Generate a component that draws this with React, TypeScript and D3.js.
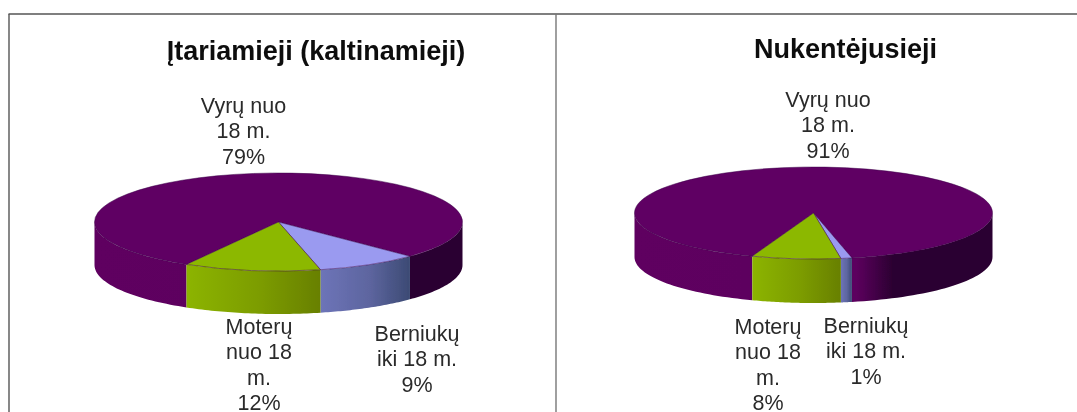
import React from "react";
import * as d3 from "d3";

const seriesNames = ["Vyrų nuo 18 m.", "Berniukų iki 18 m.", "Moterų nuo 18 m."];
const leftTitle = "Įtariamieji (kaltinamieji)";
const rightTitle = "Nukentėjusieji";
const leftValues = [79, 9, 12];
const rightValues = [91, 1, 8];
const leftLabels = [["Vyrų nuo", "18 m.", "79%"], ["Berniukų", "iki 18 m.", "9%"], ["Moterų", "nuo 18", "m.", "12%"]];
const rightLabels = [["Vyrų nuo", "18 m.", "91%"], ["Berniukų", "iki 18 m.", "1%"], ["Moterų", "nuo 18", "m.", "8%"]];
const topColors = ["#5f0064", "#9a9af0", "#8cb800"];
const wallStops = [
  ["#5e0060", "#5c005e", "#2c0032"],
  ["#6d74b8", "#5d659f", "#3c4a74"],
  ["#8cb400", "#7c9c00", "#688000"],
];

const rad = (d: number) => (d * Math.PI) / 180;

type PieProps = {
  id: string; title: string; titleX: number; titleY: number; values: number[]; labels: string[][];
  cx: number; cy: number; rx: number; ry: number; depth: number; startDeg: number;
  labelPos: [number, number][];
};

function Pie3D({ id, title, titleX, titleY, values, labels, cx, cy, rx, ry, depth, startDeg, labelPos }: PieProps) {
  const pie = d3.pie<number>().sort(null).startAngle(rad(startDeg)).endAngle(rad(startDeg + 360));
  const arcs = pie(values);
  const arc = d3.arc<d3.PieArcDatum<number>>().innerRadius(0).outerRadius(rx);
  const x = d3.scaleLinear().domain([-1, 1]).range([cx - rx, cx + rx]);
  const y = d3.scaleLinear().domain([-1, 1]).range([cy - ry, cy + ry]);
  const px = (a: number) => x(Math.sin(a));
  const py = (a: number) => y(-Math.cos(a));
  const windows = [[rad(90), rad(270)], [rad(450), rad(630)]];
  const walls: { i: number; d: string }[] = [];
  arcs.forEach((s, i) => {
    windows.forEach(([w0, w1]) => {
      const a0 = Math.max(s.startAngle, w0);
      const a1 = Math.min(s.endAngle, w1);
      if (a1 <= a0) return;
      const angles = d3.range(0, 41).map((k) => a0 + ((a1 - a0) * k) / 40);
      const top = angles.map((a) => [px(a), py(a)] as [number, number]);
      const bottom = angles.slice().reverse().map((a) => [px(a), py(a) + depth] as [number, number]);
      walls.push({ i, d: (d3.line()([...top, ...bottom]) as string) + "Z" });
    });
  });
  return (
    <g>
      <defs>
        {wallStops.map((st, i) => (
          <linearGradient key={i} id={`${id}-w${i}`} gradientUnits="userSpaceOnUse"
            x1={i === 0 ? cx - rx : px(arcs[i].endAngle)} x2={i === 0 ? cx + rx : px(arcs[i].startAngle)} y1={0} y2={0}>
            <stop offset="0" stopColor={st[0]} />
            <stop offset={i === 0 ? "0.62" : "0.55"} stopColor={st[1]} />
            <stop offset={i === 0 ? "0.72" : "1"} stopColor={st[2]} />
            <stop offset="1" stopColor={st[2]} />
          </linearGradient>
        ))}
      </defs>
      <g filter="url(#soft)">
        {walls.map((w, k) => (
          <path key={k} d={w.d} fill={`url(#${id}-w${w.i})`} />
        ))}
        <g transform={`translate(${cx},${cy}) scale(1,${ry / rx})`}>
          {arcs.map((s, i) => (
            <path key={i} d={arc(s) as string} fill={topColors[i]} stroke="#3c0048" strokeOpacity={0.55} strokeWidth={0.9} vectorEffect="non-scaling-stroke" />
          ))}
        </g>
      </g>
      <g filter="url(#softText)" fontFamily="Liberation Sans, Arial, sans-serif" fill="#2a2a2a" textAnchor="middle">
        <text x={titleX} y={titleY} fontSize={27} fontWeight={700} fill="#111">{title}</text>
        {labels.map((lines, i) => (
          <text key={i} fontSize={21.5}>
            {lines.map((l, j) => (
              <tspan key={j} x={labelPos[i][0]} y={labelPos[i][1] + j * 25.3}>{l}</tspan>
            ))}
          </text>
        ))}
      </g>
    </g>
  );
}

export default function App() {
  return (
    <svg width={1077} height={412} style={{ position: "absolute", left: 0, top: 0, display: "block" }} data-series={seriesNames.join("|")}>
      <defs>
        <filter id="soft" x="-5%" y="-5%" width="110%" height="110%"><feGaussianBlur stdDeviation="0.6" /></filter>
        <filter id="softText" x="-5%" y="-5%" width="110%" height="110%"><feGaussianBlur stdDeviation="0.45" /></filter>
      </defs>
      <rect width={1077} height={412} fill="#fff" />
      <g stroke="#555" strokeWidth={1.4}>
        <line x1={8.5} x2={1077} y1={14} y2={14} />
        <line x1={9} x2={9} y1={14} y2={412} />
        <line x1={556} x2={556} y1={14} y2={412} stroke="#777" />
      </g>
      <Pie3D id="l" title={leftTitle} titleX={316} titleY={60} values={leftValues} labels={leftLabels}
        cx={278.5} cy={222} rx={184} ry={49} depth={43} startDeg={210}
        labelPos={[[243.5, 113], [417, 341], [259, 334]]} />
      <Pie3D id="r" title={rightTitle} titleX={845.5} titleY={58} values={rightValues} labels={rightLabels}
        cx={813.5} cy={213} rx={179} ry={46} depth={44} startDeg={200}
        labelPos={[[828, 107], [866, 333], [768, 334]]} />
    </svg>
  );
}
